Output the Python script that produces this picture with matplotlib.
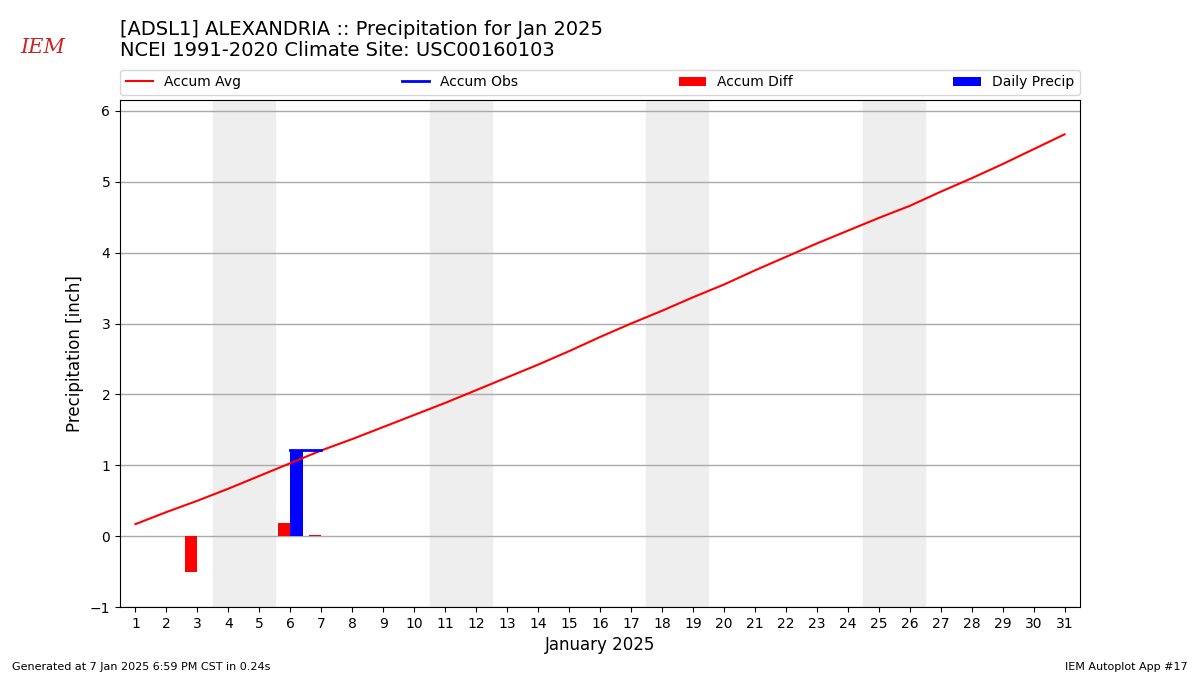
import numpy as np
from matplotlib import pyplot as plt

# January 2025 data, one value per day (None = missing)
days = list(range(1, 32))
accum_avg = [0.17, 0.34, 0.50, 0.67, 0.85, 1.03, 1.21, 1.37, 1.54, 1.71,
             1.88, 2.06, 2.24, 2.42, 2.61, 2.81, 3.00, 3.18, 3.37, 3.55,
             3.75, 3.94, 4.13, 4.31, 4.49, 4.66, 4.86, 5.05, 5.25, 5.46,
             5.67]
accum_obs = [None, None, 0.0, None, None, 1.22, 1.22] + [None] * 24
daily_precip = [None, None, 0.0, None, None, 1.22, 0.0] + [None] * 24
weekends = [(4, 5), (11, 12), (18, 19), (25, 26)]

obs = np.array([np.nan if v is None else v for v in accum_obs])
precip = np.array([np.nan if v is None else v for v in daily_precip])
avg = np.array(accum_avg)
diff = obs - avg

fig = plt.figure(figsize=(12, 6.75), dpi=100)
ax = fig.add_axes([0.1, 0.1007, 0.8, 0.7512])

for a, b in weekends:
    ax.axvspan(a - 0.5, b + 0.5, color='#EEEEEE', zorder=0)

ax.plot(days, avg, color='r', lw=1.5, label='Accum Avg', zorder=3)
ax.plot(days, obs, color='b', lw=2, label='Accum Obs', zorder=3)
ok = ~np.isnan(diff)
ax.bar(np.array(days)[ok] - 0.4, diff[ok], width=0.4, align='edge',
       color='r', label='Accum Diff', zorder=2)
ok = ~np.isnan(precip)
ax.bar(np.array(days)[ok], precip[ok], width=0.4, align='edge',
       color='b', label='Daily Precip', zorder=2)

ax.set_xlim(0.5, 31.5)
ax.set_ylim(-1, 6.155)
ax.set_xticks(days)
ax.set_yticks(range(-1, 7))
ax.grid(axis='y', color='#aaaaaa', lw=1)
ax.set_axisbelow(True)
ax.set_xlabel('January 2025', fontsize=12)
ax.set_ylabel('Precipitation [inch]', fontsize=12)
ax.legend(loc='lower left', bbox_to_anchor=(0, 1.01, 1, 0.102),
          mode='expand', ncol=4, fontsize=10, borderaxespad=0)

fig.text(0.1, 0.971, '[ADSL1] ALEXANDRIA :: Precipitation for Jan 2025\n'
         'NCEI 1991-2020 Climate Site: USC00160103',
         fontsize=14, va='top', linespacing=1.15)
# stand-in for the IEM logo
fig.text(0.017, 0.922, 'IEM', color='#cc2222', fontsize=15,
         family='DejaVu Serif', style='italic')
fig.text(0.01, 0.008, 'Generated at 7 Jan 2025 6:59 PM CST in 0.24s', fontsize=8)
fig.text(0.99, 0.008, 'IEM Autoplot App #17', fontsize=8, ha='right')

fig.savefig('out.png')
